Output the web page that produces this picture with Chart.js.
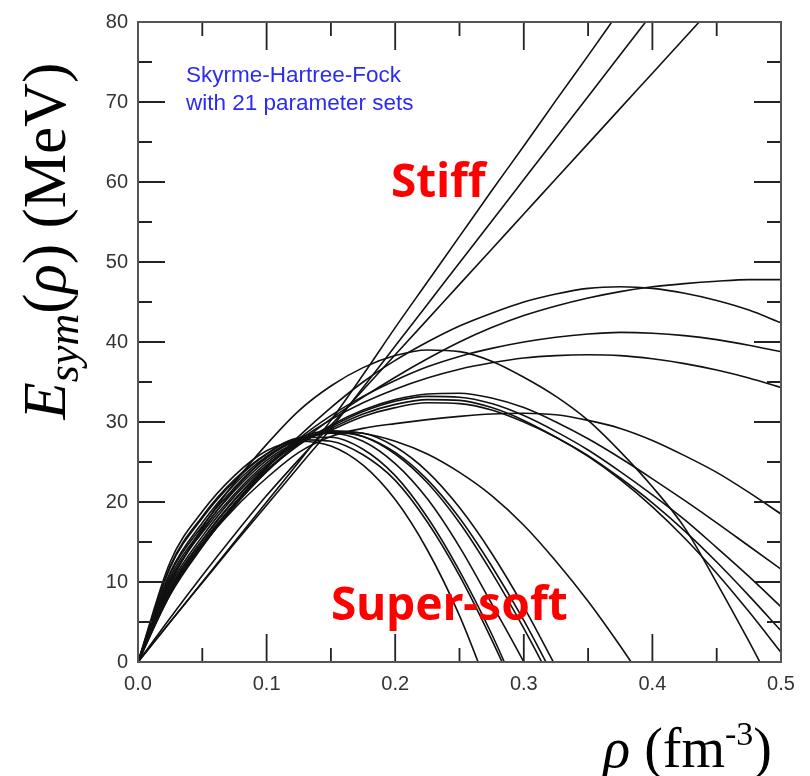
<!DOCTYPE html>
<html>
<head>
<meta charset="utf-8">
<script src="https://cdn.jsdelivr.net/npm/chart.js@4"></script>
<style>
  html, body { margin: 0; padding: 0; background: #fff; }
</style>
</head>
<body>
<canvas id="esym" width="810" height="776"></canvas>
<script>
// density grid (fm^-3), every curve is sampled on it
const rhoGrid = [0, 0.025, 0.05, 0.075, 0.1, 0.125, 0.15, 0.175, 0.2, 0.225, 0.25,
                 0.275, 0.3, 0.325, 0.35, 0.375, 0.4, 0.425, 0.45, 0.475, 0.5];

// symmetry energy (MeV), one array per parameter set
// stiff ones leave the top of the frame, soft ones cross zero
const stiffA = [0, 5.0, 10.0, 15.0, 20.0, 25.0, 30.2, 35.9, 41.8, 47.5, 53.2, 58.9, 64.5, 70.2, 75.8, 81.5];
const stiffB = [0, 5.0, 9.9, 14.8, 19.6, 24.4, 29.2, 34.3, 39.5, 44.7, 49.9, 55.1, 60.3, 65.5, 70.7, 75.9, 81.1];
const stiffC = [0, 5.5, 10.8, 15.9, 20.8, 25.3, 29.6, 34.0, 38.4, 42.8, 47.2, 51.6, 56.0, 60.4, 64.8, 69.2, 73.6, 78.0, 82.4];
const setD = [0, 8.5, 14.5, 19.5, 23.8, 27.3, 30.4, 33.1, 35.6, 37.9, 40.0, 41.8, 43.3, 44.5, 45.5, 46.3, 46.9, 47.3, 47.6, 47.8, 47.8];
const setE = [0, 8.4, 14.4, 19.6, 24.2, 28.2, 31.8, 35.0, 37.7, 40.0, 42.0, 43.6, 45.0, 46.0, 46.7, 46.9, 46.7, 46.1, 45.2, 44.0, 42.4];
const setF = [0, 8.7, 14.7, 19.8, 24.3, 27.9, 30.8, 33.2, 35.2, 36.9, 38.2, 39.2, 40.0, 40.6, 41.0, 41.2, 41.1, 40.8, 40.3, 39.6, 38.8];
const setG = [0, 9.2, 15.2, 20.2, 24.4, 27.7, 30.3, 32.4, 34.1, 35.5, 36.6, 37.4, 38.0, 38.3, 38.4, 38.3, 37.9, 37.3, 36.5, 35.5, 34.3];
const setH = [0, 8.8, 14.6, 19.2, 23.0, 26.2, 28.2, 29.2, 29.8, 30.3, 30.7, 31.0, 31.1, 30.9, 30.2, 29.2, 27.7, 25.8, 23.7, 21.2, 18.5];
const setI = [0, 8.8, 14.6, 19.5, 23.8, 27.1, 29.6, 31.5, 32.8, 33.5, 33.6, 33.0, 31.8, 30.0, 27.9, 25.5, 22.9, 20.2, 17.4, 14.5, 11.6];
const setJ = [0, 9.0, 14.9, 19.8, 24.0, 27.2, 29.4, 31.3, 32.6, 33.2, 33.1, 32.3, 30.8, 28.8, 26.5, 23.8, 20.9, 17.8, 14.3, 10.7, 6.9];
const setK = [0, 9.3, 15.3, 20.3, 24.4, 27.3, 29.2, 31.0, 32.2, 32.8, 32.7, 31.8, 30.2, 28.1, 25.8, 23.0, 19.9, 16.4, 12.5, 8.3, 3.9];
const setL = [0, 9.6, 15.7, 20.7, 24.6, 27.4, 29.0, 30.7, 31.8, 32.4, 32.3, 31.5, 30.0, 28.1, 25.7, 22.8, 19.4, 15.5, 11.1, 6.3, 1.2];
const setM = [0, 9.8, 16.8, 22.4, 27.2, 31.4, 34.5, 36.8, 38.3, 39.0, 38.8, 37.6, 35.6, 33.2, 30.2, 26.3, 21.9, 16.8, 9.9, 2.6, -5.0];
const setN = [0, 10.0, 16.4, 21.6, 25.6, 28.0, 28.9, 28.6, 27.6, 26.0, 23.7, 20.8, 17.1, 12.6, 7.6, 2.0, -4.0];
const soft1 = [0, 12.5, 18.8, 23.3, 26.4, 27.6, 27.0, 24.6, 20.3, 14.0, 5.8, -4.4];
const soft2 = [0, 12.0, 18.2, 22.8, 26.0, 27.8, 27.6, 25.9, 22.7, 17.5, 10.8, 2.8, -6.0];
const soft3 = [0, 11.8, 18.0, 22.6, 26.0, 28.0, 28.1, 26.6, 23.3, 18.1, 11.4, 3.5, -5.6];
const soft4 = [0, 11.2, 17.4, 22.2, 25.7, 27.8, 28.6, 27.6, 24.8, 20.4, 14.4, 7.3, 0, -8.0];
const soft5 = [0, 11.0, 17.0, 21.8, 25.5, 27.8, 28.8, 28.2, 26.0, 22.4, 17.4, 11.2, 4.2, -3.4];
const soft6 = [0, 10.6, 16.6, 21.4, 25.2, 27.6, 28.7, 28.2, 26.2, 22.8, 18.0, 12.0, 5.2, -2.4];
const soft7 = [0, 10.3, 16.2, 21.0, 24.9, 27.5, 28.8, 28.6, 26.9, 23.8, 19.3, 13.6, 6.9, -0.6];

const allSets = [stiffA, stiffB, stiffC, setD, setE, setF, setG, setH, setI, setJ, setK,
                 setL, setM, setN, soft1, soft2, soft3, soft4, soft5, soft6, soft7];

// axis ticks
const xMajor = [0, 0.1, 0.2, 0.3, 0.4, 0.5];
const xMinor = [0.05, 0.15, 0.25, 0.35, 0.45];
const yMajor = [0, 10, 20, 30, 40, 50, 60, 70, 80];
const yMinor = [5, 15, 25, 35, 45, 55, 65, 75];

const SERIF = '"Liberation Serif", "Times New Roman", serif';

// frame with inward ticks on all four sides, plus titles and notes
const framePlugin = {
    id: 'frame',
    afterDatasetsDraw(chart) {
        const ctx = chart.ctx;
        const a = chart.chartArea;
        const xs = chart.scales.x, ys = chart.scales.y;
        ctx.save();
        ctx.strokeStyle = '#222';
        ctx.lineWidth = 1.8;
        ctx.beginPath();
        const tick = (v, len, isX) => {
            if (isX) {
                const p = xs.getPixelForValue(v);
                ctx.moveTo(p, a.bottom); ctx.lineTo(p, a.bottom - len);
                ctx.moveTo(p, a.top); ctx.lineTo(p, a.top + len);
            } else {
                const p = ys.getPixelForValue(v);
                ctx.moveTo(a.left, p); ctx.lineTo(a.left + len, p);
                ctx.moveTo(a.right, p); ctx.lineTo(a.right - len, p);
            }
        };
        xMajor.forEach(v => tick(v, 28, true));
        xMinor.forEach(v => tick(v, 14, true));
        yMajor.forEach(v => tick(v, 27, false));
        yMinor.forEach(v => tick(v, 14, false));
        ctx.stroke();
        ctx.strokeStyle = '#555';
        ctx.lineWidth = 2;
        ctx.strokeRect(a.left, a.top, a.right - a.left, a.bottom - a.top);
        ctx.restore();
    },
    afterDraw(chart) {
        const ctx = chart.ctx;
        ctx.save();
        ctx.textBaseline = 'alphabetic';

        // notes inside the frame
        ctx.fillStyle = '#2b2bf5';
        ctx.font = '22.5px "Liberation Sans", Arial, sans-serif';
        ctx.fillText('Skyrme-Hartree-Fock', 186, 82);
        ctx.fillText('with 21 parameter sets', 186, 110);

        ctx.fillStyle = '#ff0000';
        ctx.font = 'bold 46px "Noto Sans", sans-serif';
        ctx.fillText('Stiff', 391, 197);
        ctx.fillText('Super-soft', 331, 620);

        // y title, rotated, with italic symbols and subscript
        ctx.fillStyle = '#000';
        ctx.translate(65, 241);
        ctx.rotate(-Math.PI / 2);
        const parts = [
            { t: 'E', f: 'italic 61px ' + SERIF, dy: 0 },
            { t: 'sym', f: 'italic 44px ' + SERIF, dy: 13 },
            { t: '(', f: '61px ' + SERIF, dy: 0 },
            { t: '\u03c1', f: 'italic 61px ' + SERIF, dy: 0 },
            { t: ')', f: '61px ' + SERIF, dy: 0 },
            { t: ' (MeV)', f: '61px ' + SERIF, dy: 0 }
        ];
        let total = 0;
        parts.forEach(p => { ctx.font = p.f; p.w = ctx.measureText(p.t).width; total += p.w; });
        let x = -total / 2;
        parts.forEach(p => { ctx.font = p.f; ctx.fillText(p.t, x, p.dy); x += p.w; });
        ctx.setTransform(1, 0, 0, 1, 0, 0);

        // x title, right aligned under the axis
        const xparts = [
            { t: '\u03c1', f: 'italic 56px ' + SERIF, dy: 0 },
            { t: ' (fm', f: '56px ' + SERIF, dy: 0 },
            { t: '-3', f: '34px ' + SERIF, dy: -22 },
            { t: ')', f: '56px ' + SERIF, dy: 0 }
        ];
        total = 0;
        xparts.forEach(p => { ctx.font = p.f; p.w = ctx.measureText(p.t).width; total += p.w; });
        x = 772 - total;
        xparts.forEach(p => { ctx.font = p.f; ctx.fillText(p.t, x, 767 + p.dy); x += p.w; });
        ctx.restore();
    }
};

const datasets = allSets.map(vals => ({
    data: vals.map((e, i) => ({ x: rhoGrid[i], y: e })),
    borderColor: '#111',
    borderWidth: 1.6,
    pointRadius: 0,
    fill: false,
    cubicInterpolationMode: 'monotone'
}));

new Chart(document.getElementById('esym'), {
    type: 'line',
    data: { datasets: datasets },
    options: {
        responsive: false,
        animation: false,
        devicePixelRatio: 1,
        layout: { padding: { top: 19, right: 29, left: 0, bottom: 0 } },
        plugins: {
            legend: { display: false },
            tooltip: { enabled: false }
        },
        scales: {
            x: {
                type: 'linear',
                min: 0,
                max: 0.5,
                grid: { display: false, drawTicks: false },
                border: { display: false },
                ticks: {
                    stepSize: 0.1,
                    padding: 10,
                    color: '#333',
                    font: { family: '"Liberation Sans", Arial, sans-serif', size: 20 },
                    callback: function(value) {
                        return Number(value).toFixed(1);
                    }
                },
                afterFit: function(scale) { scale.height = 114; }
            },
            y: {
                min: 0,
                max: 80,
                grid: { display: false, drawTicks: false },
                border: { display: false },
                ticks: {
                    stepSize: 10,
                    padding: 10,
                    color: '#333',
                    font: { family: '"Liberation Sans", Arial, sans-serif', size: 20 }
                },
                afterFit: function(scale) { scale.width = 138; }
            }
        }
    },
    plugins: [framePlugin]
});
</script>
</body>
</html>
